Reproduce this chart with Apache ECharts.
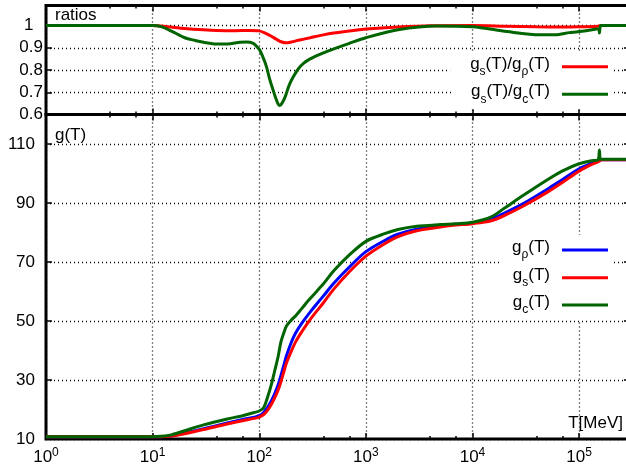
<!DOCTYPE html>
<html><head><meta charset="utf-8">
<script src="https://cdn.jsdelivr.net/npm/echarts@6/dist/echarts.min.js"></script>
<style>html,body{margin:0;padding:0;background:#fff}#c{width:626px;height:466px}</style>
</head><body><div id="c"></div>
<script>
// ---- data ----
const T = [1, 5, 10, 12, 15, 20, 30, 50, 70, 90, 100, 110, 120, 130, 140, 150, 160, 170, 180, 200, 220, 250, 300, 400, 500, 700, 1000, 1500, 2000, 3000, 5000, 7000, 10000, 15000, 20000, 30000, 50000, 70000, 100000, 130000, 150000, 155000, 158000, 165000, 200000, 300000];
const gRho = [10.75,10.75,10.75,10.78,11.05,11.95,13.45, 15.4,16.6,17.4,17.9,19.0, 20.8,23.0,25.5,28.3,31.6, 35.0,38.2,42.8,46.0,49.2, 53.0,58.5,62.8,68.3,73.5, 77.3,79.4,81.1,82.3,82.8, 83.2,84.6,86.6,89.8,94.6, 98.0,101.6,103.5,104.3,104.5, 104.6,104.7,104.7,104.7];
const gS = [10.75,10.75,10.75,10.78,11.0,11.8,13.2, 15.1,16.2,17.0,17.4,18.3, 19.8,21.8,24.0,26.5,29.5, 32.8,35.8,39.8,43.0,46.3, 50.5,56.2,60.8,66.7,72.0, 76.2,78.6,80.6,81.9,82.5, 83.0,84.0,85.8,89.0,93.6, 97.0,100.8,103.0,103.9,104.2, 104.5,104.7,104.7,104.7];
const gC = [10.75,10.75,10.75,10.9,11.4,12.8,14.8, 16.8,17.9,19.0,19.5,20.6, 24.3,28.5,33.3,37.8,43.0, 46.0,48.3,50.3,51.8,54.2, 57.6,62.6,67.0,72.4,77.0, 79.6,81.0,82.1,82.7,83.0, 83.5,85.3,88.3,92.6,97.8, 100.9,103.3,104.3,104.6,108.0, 104.8,104.8,104.8,104.8];

const T_sRho = [1, 10, 12, 15, 20, 30, 40, 60, 80, 100, 115, 130, 145, 160, 180, 200, 240, 300, 400, 500, 800, 1000, 2000, 4000, 10000, 20000, 40000, 70000, 100000, 150000, 160000, 300000];
const ratio_sRho = [1.0, 1.0, 0.998, 0.993, 0.987, 0.981, 0.978, 0.977, 0.978, 0.976, 0.965, 0.952, 0.938, 0.927, 0.922, 0.926, 0.935, 0.945, 0.958, 0.966, 0.979, 0.984, 0.993, 0.999, 1.0, 0.997, 0.994, 0.993, 0.994, 0.997, 1.0, 1.0];

const T_sC = [1, 10, 12, 15, 20, 25, 30, 40, 50, 66, 76, 88, 95, 101, 110, 117, 125, 135, 145, 154, 162, 175, 190, 208, 235, 260, 300, 400, 500, 700, 1000, 2000, 4600, 10000, 21000, 43000, 60000, 81000, 120000, 145000, 153000, 155000, 157000, 160000, 300000];
const ratio_sC = [1.0, 1.0, 0.995, 0.975, 0.945, 0.933, 0.925, 0.917, 0.917, 0.925, 0.926, 0.92, 0.905, 0.89, 0.85, 0.814, 0.76, 0.709, 0.665, 0.641, 0.648, 0.679, 0.73, 0.769, 0.808, 0.83, 0.85, 0.877, 0.895, 0.92, 0.945, 0.981, 0.998, 0.995, 0.973, 0.958, 0.958, 0.968, 0.978, 0.984, 0.986, 0.966, 0.99, 1.0, 1.0];

const xTickValues = [1, 10, 100, 1000, 10000, 100000];
const xTickExps = ['0', '1', '2', '3', '4', '5'];
const ratioTicks = [0.6, 0.7, 0.8, 0.9, 1.0];
const ratioTickLabels = ['0.6', '0.7', '0.8', '0.9', '1  '];
const gTicks = [10, 30, 50, 70, 90, 110];
const gTickLabels = ['10', '30', '50', '70', '90', '110'];

// ---- chart ----
const FONT = "'Liberation Sans', Arial, Helvetica, sans-serif";
const pair = (xs, ys) => xs.map((x, i) => [x, ys[i]]);
function findIdx(vals, v) {
  for (let i = 0; i < vals.length; i++) {
    if (Math.abs(vals[i] - v) < 1e-6 * Math.max(1, Math.abs(v))) return i;
  }
  return -1;
}
const dotted = { show: true, lineStyle: { color: '#000', width: 1.3, type: [1, 3] } };
const tickStyle = { color: '#000', width: 1.5 };

function xAx(g, pos, withLabels, withSplit) {
  return {
    type: 'log', logBase: 10, min: 1, max: 3e5, gridIndex: g, position: pos,
    axisLine: { show: false },
    axisTick: { show: true, inside: true, length: 6, lineStyle: tickStyle },
    minorTick: { show: true, splitNumber: 3, length: 3, lineStyle: tickStyle },
    splitLine: withSplit ? dotted : { show: false },
    axisLabel: withLabels ? {
      show: true, margin: 8, showMaxLabel: false,
      formatter: v => { const i = findIdx(xTickValues, v); return i < 0 ? '' : '{b|10}{p|' + xTickExps[i] + '}'; },
      rich: {
        b: { fontSize: 17, lineHeight: 19, fontFamily: FONT, color: '#000', verticalAlign: 'bottom' },
        p: { fontSize: 12, lineHeight: 19, fontFamily: FONT, color: '#000', verticalAlign: 'top' }
      }
    } : { show: false }
  };
}
function yAx(g, pos, min, max, interval, withLabels, ticks, labels, margin) {
  return {
    type: 'value', gridIndex: g, position: pos, min: min, max: max, interval: interval,
    axisLine: { show: false },
    axisTick: { show: true, inside: true, length: 6, lineStyle: tickStyle },
    splitLine: withLabels ? dotted : { show: false },
    axisLabel: withLabels ? {
      show: true, margin: margin, showMaxLabel: false, fontSize: 17, fontFamily: FONT, color: '#000',
      formatter: v => { const i = findIdx(ticks, v); return i < 0 ? '' : labels[i]; }
    } : { show: false }
  };
}

const N_SRHO = 'gs/grho', N_SC = 'gs/gc', N_RHO = 'grho', N_S = 'gs', N_C = 'gc';
const legendText = {};
legendText[N_SRHO] = '{m|g}{s|s}{m|(T)/g}{s|ρ}{m|(T)}{e|\u00a0}';
legendText[N_SC] = '{m|g}{s|s}{m|(T)/g}{s|c}{m|(T)}{e|\u00a0}';
legendText[N_RHO] = '{m|g}{s|ρ}{m|(T)}{e|\u00a0}';
legendText[N_S] = '{m|g}{s|s}{m|(T)}{e|\u00a0}';
legendText[N_C] = '{m|g}{s|c}{m|(T)}{e|\u00a0}';
const legendRich = {
  m: { fontSize: 17, lineHeight: 22, fontFamily: FONT, color: '#000', verticalAlign: 'top' },
  s: { fontSize: 12, lineHeight: 22, fontFamily: FONT, color: '#000', verticalAlign: 'bottom' },
  e: { width: 7, fontSize: 17, lineHeight: 22 }
};
function leg(name, top, padLeft) {
  return {
    show: true, data: [name], right: 12, top: top, orient: 'vertical', align: 'right',
    icon: 'rect', itemWidth: 46, itemHeight: 3, padding: [4, 6, 4, padLeft],
    backgroundColor: '#fff', selectedMode: false,
    formatter: n => legendText[n],
    textStyle: { fontFamily: FONT, fontSize: 17, color: '#000', rich: legendRich }
  };
}
function line(name, xi, yi, xs, ys, color, z) {
  return {
    type: 'line', name: name, xAxisIndex: xi, yAxisIndex: yi, data: pair(xs, ys),
    showSymbol: false, symbol: 'none', smooth: 0.3, z: z,
    lineStyle: { color: color, width: 3 }, itemStyle: { color: color }
  };
}

const chart = echarts.init(document.getElementById('c'), null, { renderer: 'canvas' });
chart.setOption({
  animation: false,
  backgroundColor: '#fff',
  grid: [
    { left: 46, top: 5.5, width: 584, height: 109, outerBoundsMode: 'none', containLabel: false, show: true, borderColor: '#000', borderWidth: 3, backgroundColor: 'transparent' },
    { left: 46, top: 114.5, width: 584, height: 324.5, outerBoundsMode: 'none', containLabel: false, show: true, borderColor: '#000', borderWidth: 3, backgroundColor: 'transparent' }
  ],
  xAxis: [xAx(0, 'bottom', false, true), xAx(0, 'top', false, false), xAx(1, 'bottom', true, true), xAx(1, 'top', false, false)],
  yAxis: [
    yAx(0, 'left', 0.6, 1.09, 0.1, true, ratioTicks, ratioTickLabels, 3),
    yAx(0, 'right', 0.6, 1.09, 0.1, false),
    yAx(1, 'left', 10, 120, 20, true, gTicks, gTickLabels, 11),
    yAx(1, 'right', 10, 120, 20, false)
  ],
  legend: [
    leg(N_SRHO, 51.7, 20), leg(N_SC, 79.3, 20),
    leg(N_RHO, 235, 12), leg(N_S, 262.7, 12), leg(N_C, 290, 12)
  ],
  graphic: [
    { type: 'text', x: 55, y: 15.5, style: { text: 'ratios', font: '17px ' + FONT, fill: '#000', verticalAlign: 'middle', textVerticalAlign: 'middle' } },
    { type: 'text', x: 55, y: 135, style: { text: 'g(T)', font: '17px ' + FONT, fill: '#000', verticalAlign: 'middle', textVerticalAlign: 'middle' } },
    { type: 'text', x: 623, y: 423, style: { text: 'T[MeV]', font: '17px ' + FONT, fill: '#000', align: 'right', textAlign: 'right', verticalAlign: 'middle', textVerticalAlign: 'middle' } }
  ],
  series: [
    line(N_SRHO, 0, 0, T_sRho, ratio_sRho, '#ff0000', 3),
    line(N_SC, 0, 0, T_sC, ratio_sC, '#006400', 4),
    line(N_RHO, 2, 2, T, gRho, '#0000ff', 3),
    line(N_S, 2, 2, T, gS, '#ff0000', 4),
    line(N_C, 2, 2, T, gC, '#006400', 5)
  ]
});
</script></body></html>
